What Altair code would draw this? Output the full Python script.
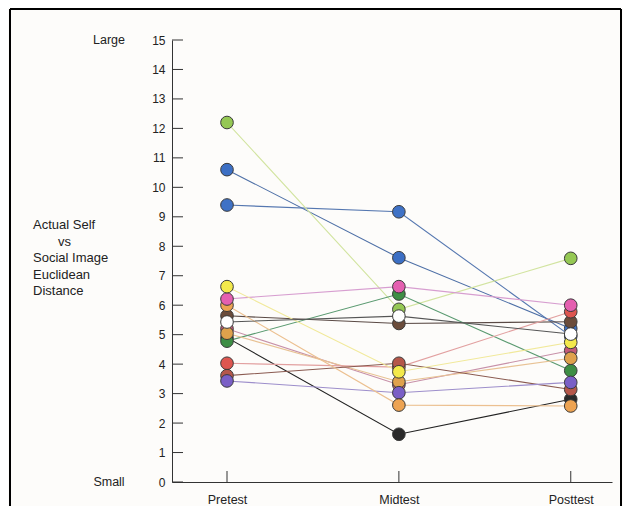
import json
import altair as alt
import pandas as pd

# ---- data ----
tests = ["Pretest", "Midtest", "Posttest"]
series = ["black", "rose", "blueA", "blueB", "brown", "lightgreen", "darkgreen",
          "orange2", "red", "brownred", "purple", "orange1", "pink", "yellow", "white"]
pretest = [4.90, 5.20, 10.60, 9.40, 5.64, 12.20, 4.78, 5.05, 4.03, 3.61, 3.43, 6.00, 6.21, 6.63, 5.43]
midtest = [1.62, 3.30, 7.61, 9.17, 5.38, 5.86, 6.38, 3.40, 3.90, 4.03, 3.03, 2.61, 6.63, 3.74, 5.63]
posttest = [2.81, 4.46, 5.21, 4.95, 5.44, 7.59, 3.78, 4.20, 5.78, 3.14, 3.38, 2.58, 6.00, 4.74, 5.02]
y_ticks = list(range(16))
end_labels = ["Large", "Small"]
end_values = [15, 0]
y_title = ["Actual Self", "vs", "Social Image", "Euclidean", "Distance"]
y_title_indent = [0, 25, 0, 0, 0]

point_colors = ["#2a2a2a", "#c45a78", "#3c6fc4", "#3f72c6", "#6b4c3b", "#95c854", "#3e8e45",
                "#dfa14c", "#de5650", "#b5574a", "#7a5fc6", "#eda352", "#e45fb0", "#f3e94b", "#ffffff"]
line_colors = ["#222222", "#c790a8", "#4d6fa6", "#5577b0", "#5a4a45", "#d2e4a0", "#5a9a70",
               "#e8c294", "#e2a0a0", "#8a5a50", "#9d8ecb", "#ecc090", "#d79ed0", "#f1e99a", "#555555"]

rows = []
for k, s in enumerate(series):
    for t, vals in enumerate([pretest, midtest, posttest]):
        rows.append({"series": s, "t": t, "v": vals[k], "k": k})
df = pd.DataFrame(rows)

font = "Liberation Sans"
labels_js = json.dumps(tests)

x_axis = alt.Axis(values=[0, 1, 2], labelExpr=f"{labels_js}[datum.value]",
                  ticks=False, grid=False, domainColor="#333333", domainWidth=1,
                  labelFontSize=12.5, labelPadding=11, labelColor="#222222",
                  labelFont=font, title=None, labelOverlap=False, labelFlush=False)
x_scale = alt.Scale(domain=[-0.32, 2.24], nice=False, zero=False)
y_axis = alt.Axis(values=y_ticks, tickCount=16, ticks=False, grid=False, domainColor="#333333",
                  domainWidth=1, labelFontSize=12, labelPadding=7,
                  labelColor="#222222", labelFont=font, labelOverlap=False,
                  labelFlush=False, title=None)
y_scale = alt.Scale(domain=[0, 15], nice=False, zero=True)


def X(field):
    return alt.X(field, scale=x_scale, axis=x_axis)


def Y(field):
    return alt.Y(field, scale=y_scale, axis=y_axis)


lines = alt.Chart(df).mark_line(strokeWidth=1.1).encode(
    x=X("t:Q"), y=Y("v:Q"), detail="series:N",
    color=alt.Color("series:N", scale=alt.Scale(domain=series, range=line_colors), legend=None),
    order="t:Q",
)

points = alt.Chart(df).mark_circle(size=160, stroke="#3a3a3a", strokeWidth=1, opacity=1).encode(
    x=X("t:Q"), y=Y("v:Q"),
    fill=alt.Fill("series:N", scale=alt.Scale(domain=series, range=point_colors), legend=None),
    order=alt.Order("k:Q"),
)

ytick_rules = alt.Chart(pd.DataFrame({"v": y_ticks})).mark_rule(color="#333333", strokeWidth=1).encode(
    y=Y("v:Q"), x=alt.value(0), x2=alt.value(11))

xtick_rules = alt.Chart(pd.DataFrame({"t": [0, 1, 2]})).mark_rule(color="#333333", strokeWidth=1).encode(
    x=X("t:Q"), y=alt.value(442), y2=alt.value(431))

end_text = alt.Chart(pd.DataFrame({"v": end_values, "lab": end_labels})).mark_text(
    font=font, fontSize=12.5, color="#222222", align="center", baseline="middle").encode(
    y=Y("v:Q"), x=alt.value(-63), text="lab:N")

title_layers = []
for i, (line, ind) in enumerate(zip(y_title, y_title_indent)):
    title_layers.append(
        alt.Chart(pd.DataFrame({"lab": [line]})).mark_text(
            font=font, fontSize=13, color="#222222", align="left", baseline="middle").encode(
            x=alt.value(-139 + ind), y=alt.value(185 + i * 16.5), text="lab:N"))

frame_df = pd.DataFrame({"a": [0]})
frame_top = alt.Chart(frame_df).mark_rule(color="#000000", strokeWidth=2).encode(
    x=alt.value(-162), x2=alt.value(449), y=alt.value(-31))
frame_left = alt.Chart(frame_df).mark_rule(color="#000000", strokeWidth=2).encode(
    x=alt.value(-162), y=alt.value(-31), y2=alt.value(470))
frame_right = alt.Chart(frame_df).mark_rule(color="#000000", strokeWidth=2).encode(
    x=alt.value(449), y=alt.value(-31), y2=alt.value(470))

chart = alt.layer(lines, ytick_rules, xtick_rules, points, end_text, *title_layers,
                  frame_top, frame_left, frame_right).properties(
    width=440, height=442,
    autosize=alt.AutoSizeParams(type="none"),
    padding={"left": 164, "top": 32, "right": 11, "bottom": 24},
    background="#fdfcfa",
).configure_view(stroke=None)

chart.save("out.html", embed_options={"renderer": "svg", "actions": False})
